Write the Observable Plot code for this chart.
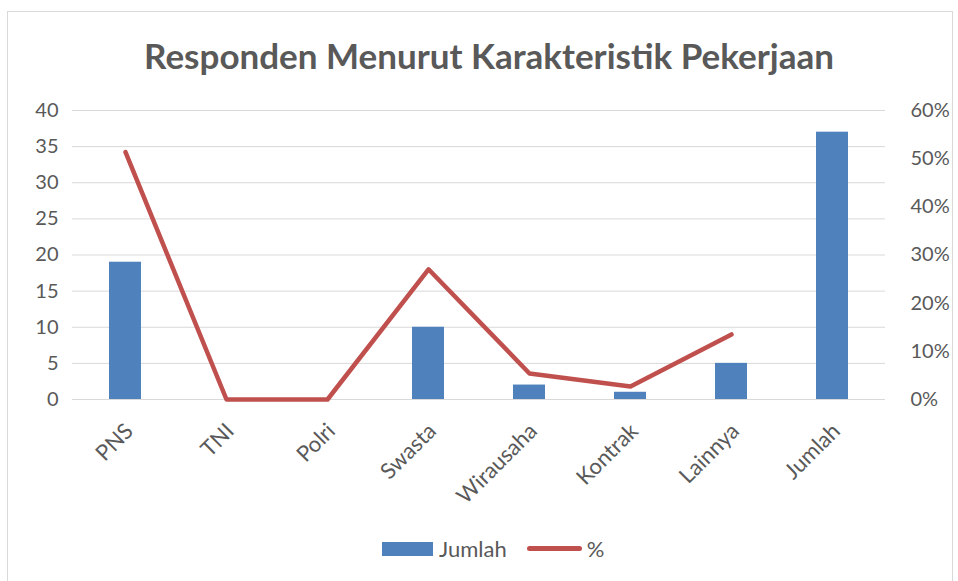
<!DOCTYPE html>
<html>
<head>
<meta charset="utf-8">
<script src="https://cdn.jsdelivr.net/npm/d3@7"></script>
<script src="https://cdn.jsdelivr.net/npm/@observablehq/plot@0.6"></script>
<style>
  html, body { margin: 0; padding: 0; background: #fff; }
  #wrap { position: relative; width: 958px; height: 581px; overflow: hidden; font-family: Lato, "Open Sans", sans-serif; color: #595959; }
  #frame { position: absolute; left: 7px; top: 11px; width: 946px; height: 580px; border: 1px solid #d9d9d9; box-sizing: border-box; }
  #title { position: absolute; left: 10px; width: 958px; top: 34px; text-align: center; font-size: 35px; font-weight: bold; color: #595959; }
  #chart { position: absolute; left: 0; top: 90px; }
  #legend { position: absolute; top: 535px; left: 382px; font-size: 22px; color: #595959; display: flex; align-items: center; }
  .sw-bar { width: 51px; height: 14px; background: #4F81BD; margin-right: 6px; }
  .sw-line { width: 55px; height: 5px; border-radius: 3px; background: #C0504D; margin-left: 20px; margin-right: 5px; }
</style>
</head>
<body>
<div id="wrap">
  <div id="frame"></div>
  <div id="title">Responden Menurut Karakteristik Pekerjaan</div>
  <div id="chart"></div>
  <div id="legend"><div class="sw-bar"></div><span>Jumlah</span><div class="sw-line"></div><span>%</span></div>
</div>
<script>
const categories = ["PNS", "TNI", "Polri", "Swasta", "Wirausaha", "Kontrak", "Lainnya", "Jumlah"];
const jumlah = [19, 0, 0, 10, 2, 1, 5, 37];
const pctCategories = ["PNS", "TNI", "Polri", "Swasta", "Wirausaha", "Kontrak", "Lainnya"];
const pct = [51.35, 0, 0, 27.03, 5.41, 2.70, 13.51];
const leftTicks = [0, 5, 10, 15, 20, 25, 30, 35, 40];
const rightTickLabels = ["0%", "10%", "20%", "30%", "40%", "50%", "60%"];

const leftMax = 40, rightMax = 60;
const barData = categories.map((c, i) => ({cat: c, v: jumlah[i]}));
const lineData = pctCategories.map((c, i) => ({cat: c, v: pct[i] * leftMax / rightMax}));
const rightTicks = rightTickLabels.map((_, i) => i * 10 * leftMax / rightMax);

const plot = Plot.plot({
  width: 958,
  height: 430,
  marginLeft: 72,
  marginRight: 73,
  marginTop: 20,
  marginBottom: 121,
  style: {fontFamily: "Lato, 'Open Sans', sans-serif", fontSize: "20px", color: "#595959", background: "transparent", overflow: "visible"},
  x: {domain: categories, paddingInner: 0.685, paddingOuter: 0.3425, label: null},
  y: {domain: [0, leftMax], label: null},
  marks: [
    Plot.gridY(leftTicks, {stroke: "#d9d9d9", strokeOpacity: 1, strokeWidth: 1}),
    Plot.barY(barData, {x: "cat", y: "v", fill: "#4F81BD"}),
    Plot.ruleY([0], {stroke: "#d9d9d9", strokeWidth: 1}),
    Plot.line(lineData, {x: "cat", y: "v", stroke: "#C0504D", strokeWidth: 4.5, strokeLinejoin: "round", strokeLinecap: "round"}),
    Plot.axisY(leftTicks, {anchor: "left", tickSize: 0, tickPadding: 14, fill: "#595959", fontSize: 20, label: null}),
    Plot.axisY(rightTicks, {anchor: "right", tickSize: 0, tickPadding: 25, fill: "#595959", fontSize: 20, label: null,
      tickFormat: (d) => rightTickLabels[Math.round(d * rightMax / leftMax / 10)]}),
    Plot.axisX({tickSize: 0, tickRotate: -45, tickPadding: 28, fill: "#595959", fontSize: 22, label: null, dx: 4})
  ]
});
document.getElementById("chart").appendChild(plot);
</script>
</body>
</html>
